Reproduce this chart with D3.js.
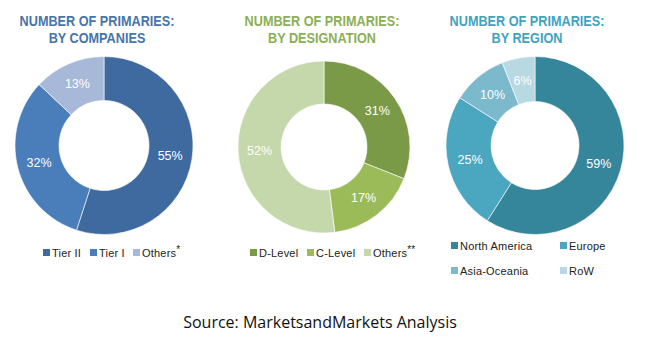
<!DOCTYPE html>
<html>
<head>
<meta charset="utf-8">
<script src="https://cdn.jsdelivr.net/npm/d3@7"></script>
<style>
  body { margin: 0; background: #fff; }
</style>
</head>
<body>
<div id="vis"></div>
<script>
// data
const companyLabels = ["Tier II", "Tier I", "Others*"];
const companyValues = [55, 32, 13];
const companyColors = ["#3E6A9F", "#4A7EBB", "#A7B8D9"];

const designationLabels = ["D-Level", "C-Level", "Others**"];
const designationValues = [31, 17, 52];
const designationColors = ["#7A9A48", "#9BBB59", "#C5D8AB"];

const regionLabels = ["North America", "Europe", "Asia-Oceania", "RoW"];
const regionValues = [59, 25, 10, 6];
const regionColors = ["#35869B", "#4BA6BF", "#7DB9CD", "#B8D8E2"];

const charts = [
    { title: ["NUMBER OF PRIMARIES:", "BY COMPANIES"], titleColor: "#4774AB",
      labels: companyLabels, values: companyValues, colors: companyColors,
      cx: 104, cy: 145.5, r: 89, ir: 45, tx: 97,
      legend: { x: 43, y: 253, cols: [0, 47, 90], rowH: 0 } },
    { title: ["NUMBER OF PRIMARIES:", "BY DESIGNATION"], titleColor: "#8CAF55",
      labels: designationLabels, values: designationValues, colors: designationColors,
      cx: 324, cy: 147, r: 86, ir: 43, tx: 322,
      legend: { x: 250, y: 253, cols: [0, 57, 114], rowH: 0 } },
    { title: ["NUMBER OF PRIMARIES:", "BY REGION"], titleColor: "#3FA3BF",
      labels: regionLabels, values: regionValues, colors: regionColors,
      cx: 535, cy: 145.5, r: 89, ir: 44, tx: 527,
      legend: { x: 451, y: 246, cols: [0, 109], rowH: 25 } }
];

const width = 650, height = 347;
const titleWidth = 155; // width of the first title line in the picture

const svg = d3.select("#vis").append("svg")
    .attr("width", width)
    .attr("height", height)
    .style("font-family", "'Liberation Sans', Arial, sans-serif");

const pie = d3.pie().sort(null).value(d => d);

charts.forEach(c => {
    const g = svg.append("g");

    // title, squeezed horizontally to look like a condensed face
    const tg = g.append("g");
    const title = tg.append("text")
        .attr("text-anchor", "middle")
        .attr("fill", c.titleColor)
        .style("font-size", "15px")
        .style("font-weight", "bold");
    title.selectAll("tspan")
        .data(c.title)
        .join("tspan")
        .attr("x", 0)
        .attr("y", (d, i) => i * 17)
        .text(d => d);
    const w = title.select("tspan").node().getComputedTextLength();
    tg.attr("transform", `translate(${c.tx},26) scale(${titleWidth / w},1)`);

    const arc = d3.arc().innerRadius(c.ir).outerRadius(c.r);
    const arcs = pie(c.values);

    const donut = g.append("g")
        .attr("transform", `translate(${c.cx},${c.cy})`);

    donut.selectAll("path")
        .data(arcs)
        .join("path")
        .attr("d", arc)
        .attr("fill", (d, i) => c.colors[i])
        .attr("stroke", "#fff")
        .attr("stroke-width", 0.6);

    donut.selectAll("text")
        .data(arcs)
        .join("text")
        .attr("transform", d => `translate(${arc.centroid(d)})`)
        .attr("text-anchor", "middle")
        .attr("dy", "0.35em")
        .attr("fill", "#fff")
        .style("font-size", "12.5px")
        .text(d => d.data + "%");

    // legend
    const nCols = c.legend.cols.length;
    const items = g.append("g")
        .selectAll("g")
        .data(c.labels)
        .join("g")
        .attr("transform", (d, i) => `translate(${c.legend.x + c.legend.cols[i % nCols]},${c.legend.y + Math.floor(i / nCols) * c.legend.rowH})`);

    items.append("rect")
        .attr("x", 0)
        .attr("y", -4)
        .attr("width", 7)
        .attr("height", 7)
        .attr("fill", (d, i) => c.colors[i]);

    items.append("text")
        .attr("x", 9)
        .attr("dy", "0.35em")
        .attr("fill", "#222")
        .style("font-size", "11px")
        .style("letter-spacing", "0.2px")
        .each(function (d) {
            const m = d.match(/^(.*?)(\*+)$/);
            const t = d3.select(this);
            if (m) {
                t.append("tspan").text(m[1]);
                t.append("tspan").attr("dy", -4).style("font-size", "10px").text(m[2]);
            } else {
                t.text(d);
            }
        });
});

svg.append("text")
    .attr("x", 320)
    .attr("y", 328)
    .attr("text-anchor", "middle")
    .attr("fill", "#111")
    .style("font-family", "'Open Sans', 'Liberation Sans', sans-serif")
    .style("font-size", "16px")
    .text("Source: MarketsandMarkets Analysis");
</script>
</body>
</html>
